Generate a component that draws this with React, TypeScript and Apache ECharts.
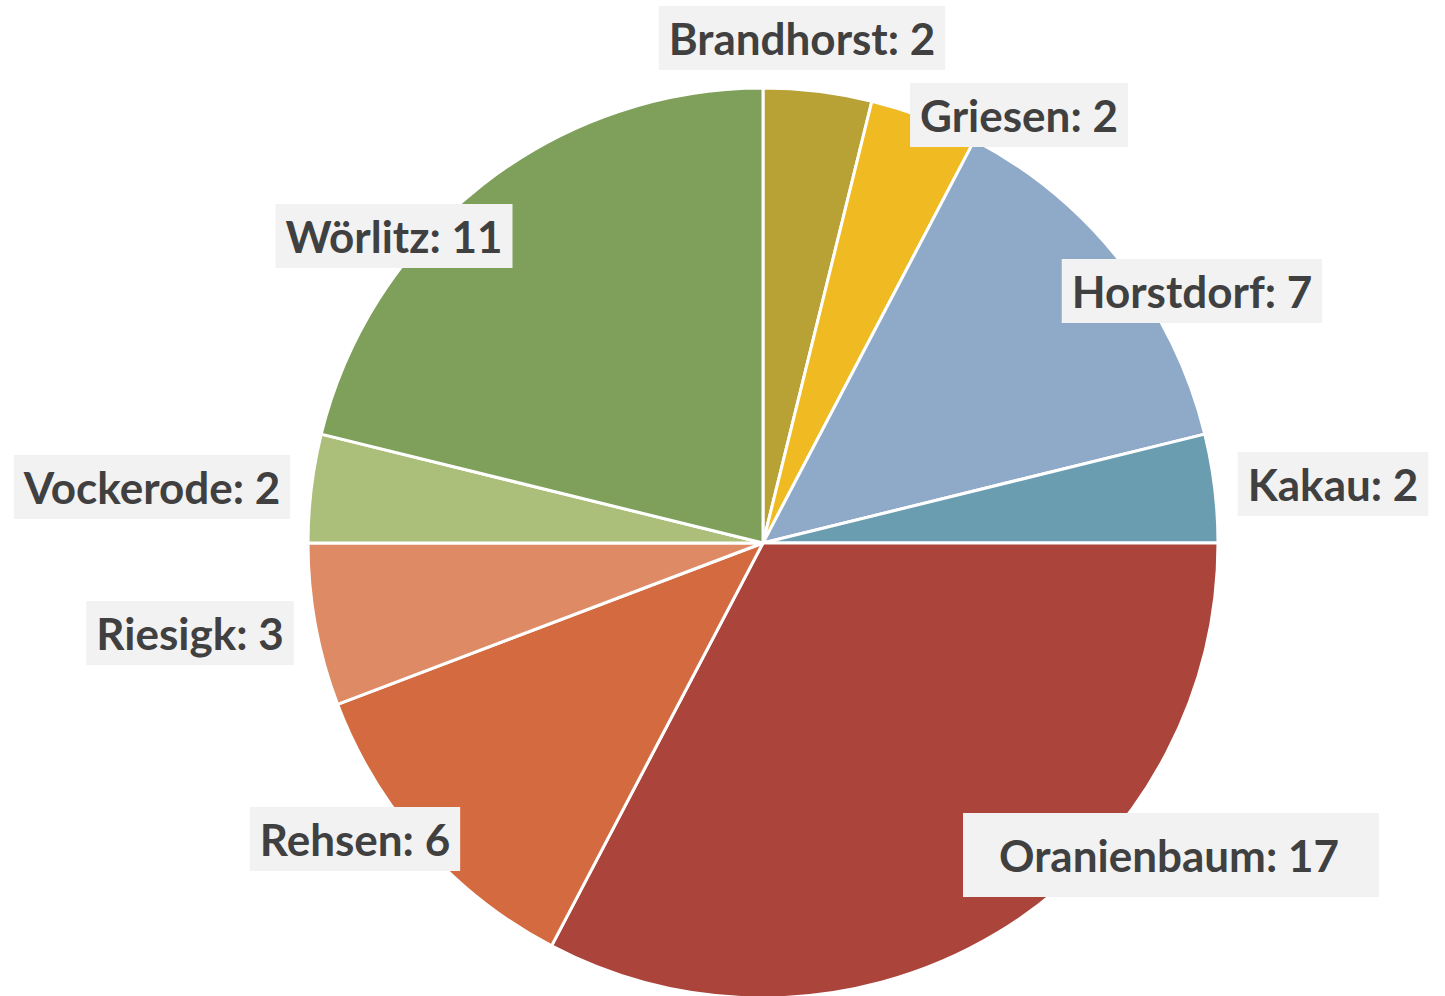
import React, { useEffect, useRef } from "react";
import * as echarts from "echarts";

const categories = ["Brandhorst", "Griesen", "Horstdorf", "Kakau", "Oranienbaum", "Rehsen", "Riesigk", "Vockerode", "Wörlitz"];
const values = [2, 2, 7, 2, 17, 6, 3, 2, 11];
const colors = ["#b8a135", "#f0ba22", "#8faac8", "#6a9db0", "#ab443b", "#d46b40", "#dd8a65", "#abbf7b", "#7fa05a"];
// label box centres (layout, not data)
const labelCenters: [number, number][] = [
  [802, 38], [1019, 115], [1192, 291], [1333, 484], [1171, 855], [355, 839], [190, 633], [152, 487], [394, 236],
];

export default function App() {
  const ref = useRef<HTMLDivElement>(null);
  useEffect(() => {
    if (!ref.current) return;
    const chart = echarts.init(ref.current, undefined, { renderer: "svg" });
    chart.setOption({
      animation: false,
      backgroundColor: "#ffffff",
      series: [
        {
          type: "pie",
          center: [763, 543],
          radius: [0, 455],
          startAngle: 90,
          clockwise: true,
          avoidLabelOverlap: false,
          itemStyle: { borderColor: "#ffffff", borderWidth: 3 },
          label: {
            show: true,
            position: "outside",
            formatter: "{b}: {c}",
            fontFamily: "Lato",
            fontWeight: "bold",
            fontSize: 44,
            color: "#404040",
            backgroundColor: "#f2f2f2",
            padding: [10, 10, 10, 10],
          },
          labelLine: { show: false },
          labelLayout: (p: any) => {
            const c = labelCenters[p.dataIndex];
            return { x: c[0], y: c[1], align: "center", verticalAlign: "middle" };
          },
          data: categories.map((name, i) => ({
            name,
            value: values[i],
            itemStyle: { color: colors[i] },
            label: name === "Oranienbaum" ? { padding: [20, 40, 20, 36] } : undefined,
          })),
        },
      ],
    });
    return () => chart.dispose();
  }, []);
  return (
    <div
      ref={ref}
      style={{ position: "fixed", left: 0, top: 0, width: 1445, height: 996 }}
    />
  );
}
